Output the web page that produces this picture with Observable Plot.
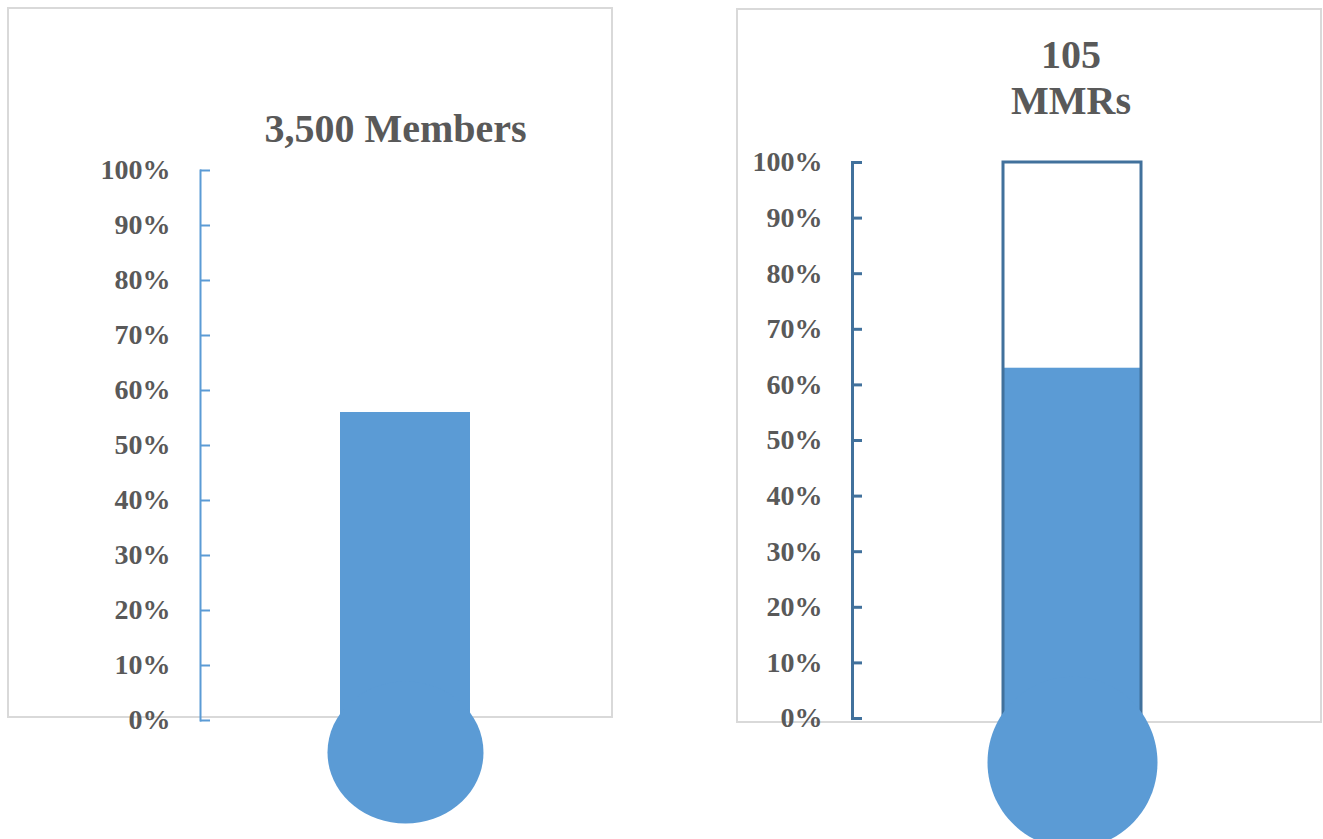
<!DOCTYPE html>
<html><head><meta charset="utf-8">
<script src="https://cdn.jsdelivr.net/npm/d3@7"></script>
<script src="https://cdn.jsdelivr.net/npm/@observablehq/plot@0.6"></script>
<style>
html,body{margin:0;padding:0;background:#fff;width:1323px;height:839px;overflow:hidden;position:relative}
.box{position:absolute;border:2px solid #D9D9D9;box-sizing:border-box}
.chart{position:absolute;top:0}
</style></head><body>
<div class="box" style="left:7px;top:7px;width:606px;height:711px"></div>
<div class="box" style="left:736px;top:8px;width:586px;height:715px"></div>
<div id="c0" class="chart" style="left:0"></div>
<div id="c1" class="chart" style="left:690px"></div>
<script>
// ---- data ----
const categories = ["Members", "MMRs"];
const titles = ["3,500 Members", "105\nMMRs"];
const progress = [0.56, 0.63];
const targets = [1.0, 1.0];
const tickValues = [0, 0.1, 0.2, 0.3, 0.4, 0.5, 0.6, 0.7, 0.8, 0.9, 1.0];
const tickLabels = ["0%", "10%", "20%", "30%", "40%", "50%", "60%", "70%", "80%", "90%", "100%"];

// ---- layout (styles, not data) ----
const layout = [
  {width: 660, marginLeft: 200, marginRight: 50, marginTop: 170, marginBottom: 119, padding: 0.5185,
   axisColor: "#5B9BD5", axisWidth: 2, outline: false, bulbR: 78, bulbK: 0.91, bulbDy: 32, titleDx: -10, titleDy: -29},
  {width: 633, marginLeft: 162, marginRight: 30, marginTop: 162, marginBottom: 121, padding: 0.521,
   axisColor: "#41719C", axisWidth: 3, outline: true, bulbR: 85, bulbK: 1.01, bulbDy: 44, titleDx: -2, titleDy: -49}
];

const FONT = "'Liberation Serif', 'Times New Roman', serif";
const TEXT = "#595959";
const BLUE = "#5B9BD5";

function ellipse(k) {
  return {draw(ctx, size) {
    const rx = Math.sqrt(size / Math.PI), ry = rx * k, c = 0.5522847498;
    ctx.moveTo(rx, 0);
    ctx.bezierCurveTo(rx, c * ry, c * rx, ry, 0, ry);
    ctx.bezierCurveTo(-c * rx, ry, -rx, c * ry, -rx, 0);
    ctx.bezierCurveTo(-rx, -c * ry, -c * rx, -ry, 0, -ry);
    ctx.bezierCurveTo(c * rx, -ry, rx, -c * ry, rx, 0);
    ctx.closePath();
  }};
}

categories.forEach((cat, i) => {
  const L = layout[i];
  const rows = [{cat, value: progress[i], target: targets[i], title: titles[i]}];
  const labelOf = new Map(tickValues.map((v, j) => [v, tickLabels[j]]));
  const chart = Plot.plot({
    width: L.width,
    height: 839,
    marginLeft: L.marginLeft, marginRight: L.marginRight,
    marginTop: L.marginTop, marginBottom: L.marginBottom,
    style: {background: "transparent", fontFamily: FONT, overflow: "visible"},
    x: {type: "band", domain: [cat], padding: L.padding, axis: null},
    y: {domain: [0, 1], axis: null},
    marks: [
      Plot.barY(rows, {x: "cat", y: "value", fill: BLUE}),
      L.outline ? Plot.barY(rows, {x: "cat", y: "target", fill: "none", stroke: L.axisColor, strokeWidth: 3}) : null,
      Plot.frame({anchor: "left", stroke: L.axisColor, strokeWidth: L.axisWidth}),
      Plot.axisY({
        ticks: tickValues, tickFormat: (d) => labelOf.get(d),
        tickSize: -10, tickPadding: 40, label: null,
        stroke: L.axisColor, strokeWidth: L.axisWidth,
        fill: TEXT, fontSize: 28, fontWeight: "bold", fontFamily: FONT
      }),
      Plot.dot(rows, {x: "cat", y: () => 0, dy: L.bulbDy, r: L.bulbR, symbol: ellipse(L.bulbK), fill: BLUE, stroke: "none"}),
      Plot.text(rows, {text: "title", frameAnchor: "top", lineAnchor: "bottom", dx: L.titleDx, dy: L.titleDy,
        fontSize: 40, fontWeight: "bold", fontFamily: FONT, fill: TEXT, lineHeight: 1.15})
    ]
  });
  document.getElementById("c" + i).appendChild(chart);
});
</script>
</body></html>
